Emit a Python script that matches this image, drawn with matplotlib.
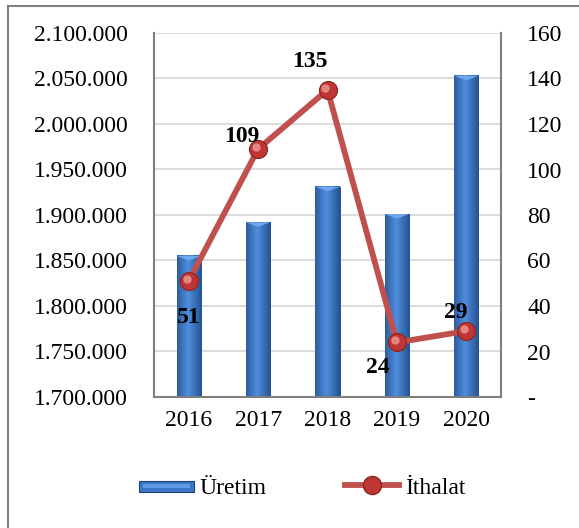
import matplotlib
matplotlib.use("Agg")
import matplotlib.pyplot as plt
import numpy as np
from matplotlib.ticker import FuncFormatter, FixedLocator
from matplotlib.lines import Line2D
from matplotlib.patches import Rectangle
import matplotlib.transforms as mtransforms
from matplotlib.legend_handler import HandlerBase

years = ["2016", "2017", "2018", "2019", "2020"]
uretim = [1855000, 1892000, 1931000, 1901000, 2053000]
ithalat = [51, 109, 135, 24, 29]
label_offsets_px = [(0, -37), (-16, 13), (-18, 28), (-19, -25), (-11, 19)]

plt.rcParams['font.family'] = ['Liberation Serif', 'DejaVu Serif']
FS = 17

fig = plt.figure(figsize=(5.79, 5.28), dpi=100)
ax = fig.add_axes([154/579, 1-397/528, (501-154)/579, (397-33)/528])
ax2 = ax.twinx()

YMIN, YMAX = 1700000, 2100000
x = np.arange(len(years))
bw = 0.35
bars = ax.bar(x, uretim, width=bw, color="#3A76C4", zorder=2)

ax.set_xlim(-0.5, 4.5)
ax.set_ylim(YMIN, YMAX)
ax.yaxis.set_major_locator(FixedLocator(np.arange(YMIN, YMAX + 1, 50000)))
ax.yaxis.set_major_formatter(FuncFormatter(lambda v, p: f"{int(v):,}".replace(",", ".")))
ax.set_xticks(x)
ax.set_xticklabels(years)
ax.grid(axis='y', color='#D9D9D9', lw=1.3, zorder=0)
ax.set_axisbelow(True)

# gradient fill for bars
grad = np.linspace(0, 1, 64)
prof = 1 - np.abs(grad - 0.45) * 1.6
prof = np.clip(prof, 0, 1)
dark = np.array([0x1F, 0x4A, 0x86]) / 255
light = np.array([0x4F, 0x8E, 0xDE]) / 255
img = dark[None, :] + (light - dark)[None, :] * prof[:, None]
img = img[None, :, :]
for b in bars:
    x0 = b.get_x()
    w = b.get_width()
    top = b.get_y() + b.get_height()
    y0 = max(b.get_y(), YMIN)
    ax.imshow(img, extent=[x0, x0 + w, y0, top], aspect='auto', zorder=2.1,
              interpolation='bilinear')
    b.set_edgecolor('#1C4478')
    b.set_linewidth(0.6)
    tri = plt.Polygon([[x0, top], [x0 + w, top], [x0 + w / 2, top - 5000]],
                      closed=True, color='#6FA8EC', zorder=2.2, lw=0)
    ax.add_patch(tri)

ax.set_xlim(-0.5, 4.5)
ax.set_ylim(YMIN, YMAX)

for s in ['left', 'bottom', 'right']:
    ax.spines[s].set_color('#7F7F7F')
    ax.spines[s].set_linewidth(1.5)
ax.spines['top'].set_visible(False)
ax.tick_params(axis='y', length=0, pad=19, labelsize=FS)
ax.tick_params(axis='x', length=0, pad=9, labelsize=FS)

# line on right axis
ax2.set_ylim(0, 160)
ax2.yaxis.set_major_locator(FixedLocator(np.arange(0, 161, 20)))
ax2.yaxis.set_major_formatter(FuncFormatter(lambda v, p: "-" if v == 0 else f"{int(v)}"))
ax2.tick_params(axis='y', length=0, pad=19, labelsize=FS)
for s in ['left', 'bottom', 'right', 'top']:
    ax2.spines[s].set_visible(False)
line_color = "#C0504D"
ax2.plot(x, ithalat, color=line_color, lw=4.2, zorder=3, solid_capstyle='round')
ax2.plot(x, ithalat, ls='none', marker='o', ms=13, mfc='#BE3633', mec='#8A2421', mew=0.8, zorder=4)
hl = mtransforms.offset_copy(ax2.transData, fig=fig, x=-1.5, y=1.5, units='points')
ax2.plot(x, ithalat, ls='none', marker='o', ms=6, mfc='#E8908D', mec='none', alpha=0.9,
         zorder=5, transform=hl)

for xi, v, (dx, dy) in zip(x, ithalat, label_offsets_px):
    ax2.annotate(str(v), (xi, v), xytext=(dx * 0.72, dy * 0.72), textcoords='offset points',
                 ha='center', va='center', fontsize=FS, fontweight='bold', zorder=6)


class BarHandler(HandlerBase):
    def create_artists(self, legend, orig, xd, yd, width, height, fontsize, trans):
        r = Rectangle((xd, yd + height * 0.1), width, height * 0.65, facecolor='#3A76C4',
                      edgecolor='#1C4478', lw=0.8, transform=trans)
        r2 = Rectangle((xd + width * 0.06, yd + height * 0.32), width * 0.88, height * 0.25,
                       facecolor='#5E9BE6', edgecolor='none', transform=trans)
        return [r, r2]


bar_handle = Rectangle((0, 0), 1, 1)
line_handle = Line2D([], [], color=line_color, lw=4.2, marker='o', ms=13, mfc='#BE3633', mec='#8A2421')
fig.legend([bar_handle, line_handle], ["Üretim", "İthalat"],
           handler_map={Rectangle: BarHandler()},
           loc='center', bbox_to_anchor=(0.522, 1 - 488/528), ncol=2, frameon=False,
           fontsize=FS, handlelength=2.3, handletextpad=0.25, columnspacing=3.3)

# figure border (left and top)
fig.add_artist(Line2D([8/579, 8/579], [0, 1 - 6/528], transform=fig.transFigure, color='#808080', lw=1.5))
fig.add_artist(Line2D([8/579, 1], [1 - 6/528, 1 - 6/528], transform=fig.transFigure, color='#808080', lw=1.5))

fig.savefig("out.png", dpi=100)
